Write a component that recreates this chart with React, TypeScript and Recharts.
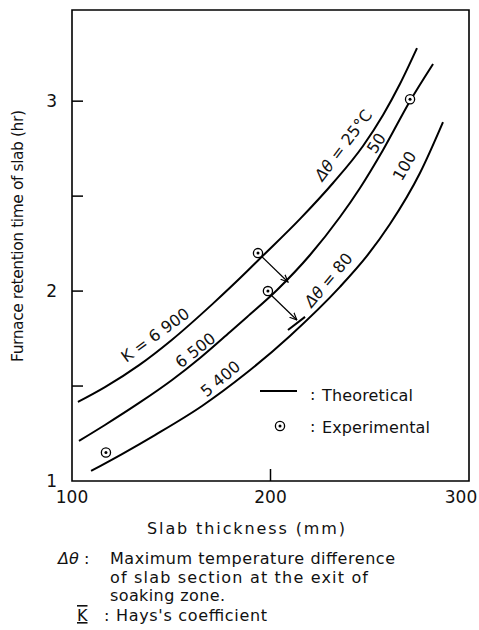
import React from 'react'
import { ComposedChart, Line, Scatter, XAxis, YAxis, ReferenceArea, ReferenceDot } from 'recharts'

const FONT = '"DejaVu Sans", sans-serif'

// theoretical curves (slab thickness mm -> retention time hr)
const k6900Thickness = [103.0, 116.6, 133.8, 150.4, 171.0, 188.2, 193.7, 214.9, 231.5, 246.6, 256.7, 265.2, 273.8]
const k6900Time = [1.416, 1.494, 1.61, 1.744, 1.934, 2.104, 2.161, 2.38, 2.569, 2.764, 2.927, 3.09, 3.279]

const k6500Thickness = [103.5, 116.6, 133.8, 150.4, 164.5, 179.6, 188.2, 203.3, 219.9, 235.0, 245.1, 256.7, 270.3, 281.9]
const k6500Time = [1.211, 1.295, 1.411, 1.532, 1.648, 1.785, 1.864, 2.006, 2.19, 2.39, 2.543, 2.743, 3.001, 3.196]

const k5400Thickness = [109.6, 125.2, 141.8, 165.5, 187.2, 209.8, 235.0, 248.6, 260.2, 275.3, 286.9]
const k5400Time = [1.053, 1.142, 1.242, 1.395, 1.563, 1.764, 2.022, 2.185, 2.353, 2.622, 2.89]

// short piece of the  Δθ = 80 line
const dt80Thickness = [208.8, 217.4]
const dt80Time = [1.795, 1.864]

// experimental points
const expThickness = [117.1, 193.7, 198.7, 270.3]
const expTime = [1.15, 2.2, 2.0, 3.01]

// arrows from experimental points
const arrow1Thickness = [193.7, 208.8]
const arrow1Time = [2.201, 2.048]
const arrow2Thickness = [198.7, 213.3]
const arrow2Time = [1.995, 1.848]

const xTicks = [100, 200, 300]
const yTicks = [1, 1.5, 2, 2.5, 3]

const curveLabels = [
  { x: 236.5, y: 2.77, angle: -53, text: 'Δθ = 25°C', italic: 2 },
  { x: 253.1, y: 2.78, angle: -57, text: '50', italic: 0 },
  { x: 267.3, y: 2.66, angle: -60, text: '100', italic: 0 },
  { x: 229.0, y: 2.06, angle: -50, text: 'Δθ = 80', italic: 2 },
  { x: 141.8, y: 1.77, angle: -36, text: 'K = 6 900', italic: 0 },
  { x: 162.0, y: 1.69, angle: -38, text: '6 500', italic: 0 },
  { x: 174.6, y: 1.54, angle: -40, text: '5 400', italic: 0 },
]

const zip = (xs: number[], ys: number[]) => xs.map((x, i) => ({ x, y: ys[i] }))

const ExpMark = ({ cx, cy }: any) => (
  <g>
    <circle cx={cx} cy={cy} r={4.6} fill="#fff" stroke="#000" strokeWidth={1.3} />
    <circle cx={cx} cy={cy} r={1.5} fill="#000" />
  </g>
)

const XTick = ({ x, y, payload }: any) => {
  const axisY = y - 10
  const last = payload.value === 300
  return (
    <g>
      {payload.value === 200 && <line x1={x} x2={x} y1={axisY} y2={axisY - 12} stroke="#000" strokeWidth={1.5} />}
      <text x={last ? x - 8 : x} y={axisY + 22} textAnchor="middle" fontSize={17} fontFamily={FONT} fill="#111">
        {payload.value}
      </text>
    </g>
  )
}

const YTick = ({ x, y, payload }: any) => {
  const axisX = x + 15
  const v = payload.value
  return (
    <g>
      {v !== 1 && <line x1={axisX} x2={axisX + 11} y1={y} y2={y} stroke="#000" strokeWidth={1.5} />}
      {Number.isInteger(v) && (
        <text x={x} y={y} dy={6} textAnchor="end" fontSize={17} fontFamily={FONT} fill="#111">
          {v}
        </text>
      )}
    </g>
  )
}

const CurveLabel = (lbl: (typeof curveLabels)[number]) => (p: any) => {
  const head = lbl.text.slice(0, lbl.italic)
  const rest = lbl.text.slice(lbl.italic)
  return (
    <text
      x={p.cx}
      y={p.cy}
      dy={6}
      textAnchor="middle"
      fontSize={16}
      fontFamily={FONT}
      fill="#111"
      transform={`rotate(${lbl.angle}, ${p.cx}, ${p.cy})`}
    >
      {head && <tspan fontStyle="italic">{head}</tspan>}
      {rest}
    </text>
  )
}

export default function App() {
  return (
    <div style={{ position: 'absolute', left: 0, top: 0, width: 479, height: 630, background: '#fff' }}>
      <ComposedChart width={479} height={545} margin={{ top: 10, right: 10, bottom: 0, left: 0 }}>
        <defs>
          <marker id="arrowHead" viewBox="0 0 10 10" refX="9" refY="5" markerWidth="8" markerHeight="8" orient="auto" markerUnits="userSpaceOnUse">
            <path d="M0,1 L9,5 L0,9" fill="none" stroke="#000" strokeWidth={1.5} />
          </marker>
        </defs>
        <XAxis
          type="number"
          dataKey="x"
          domain={[100, 300]}
          ticks={xTicks}
          interval={0}
          allowDataOverflow
          axisLine={false}
          tickLine={false}
          tickSize={0}
          tickMargin={10}
          height={64}
          tick={XTick}
        />
        <YAxis
          type="number"
          dataKey="y"
          domain={[1, 3.48]}
          ticks={yTicks}
          interval={0}
          allowDataOverflow
          axisLine={false}
          tickLine={false}
          tickSize={0}
          tickMargin={15}
          width={72}
          tick={YTick}
        />
        <ReferenceArea x1={100} x2={300} y1={1} y2={3.48} fill="none" stroke="#000" strokeWidth={1.6} fillOpacity={0} />
        <Line data={zip(k6900Thickness, k6900Time)} dataKey="y" type="monotone" stroke="#000" strokeWidth={2} dot={false} isAnimationActive={false} />
        <Line data={zip(k6500Thickness, k6500Time)} dataKey="y" type="monotone" stroke="#000" strokeWidth={2} dot={false} isAnimationActive={false} />
        <Line data={zip(k5400Thickness, k5400Time)} dataKey="y" type="monotone" stroke="#000" strokeWidth={2} dot={false} isAnimationActive={false} />
        <Line data={zip(dt80Thickness, dt80Time)} dataKey="y" type="linear" stroke="#000" strokeWidth={2} dot={false} isAnimationActive={false} />
        <Line data={zip(arrow1Thickness, arrow1Time)} dataKey="y" type="linear" stroke="#000" strokeWidth={1.2} dot={false} markerEnd="url(#arrowHead)" isAnimationActive={false} />
        <Line data={zip(arrow2Thickness, arrow2Time)} dataKey="y" type="linear" stroke="#000" strokeWidth={1.2} dot={false} markerEnd="url(#arrowHead)" isAnimationActive={false} />
        <Scatter data={zip(expThickness, expTime)} shape={ExpMark} isAnimationActive={false} />
        {curveLabels.map((l) => (
          <ReferenceDot key={l.text} x={l.x} y={l.y} r={0} ifOverflow="visible" shape={CurveLabel(l)} />
        ))}
      </ComposedChart>

      <svg width={479} height={630} style={{ position: 'absolute', left: 0, top: 0, pointerEvents: 'none' }} fontFamily={FONT} fill="#111">
        <text transform="rotate(-90)" x={-236} y={23} textAnchor="middle" fontSize={15.5} textLength={252} lengthAdjust="spacing">
          Furnace retention time of slab (hr)
        </text>
        <text x={147} y={534} fontSize={16} textLength={198} lengthAdjust="spacing">
          Slab thickness (mm)
        </text>

        <line x1={260} x2={297} y1={391} y2={391} stroke="#000" strokeWidth={2} />
        <text x={310} y={400} fontSize={16}>:</text>
        <text x={322} y={401} fontSize={16} textLength={91} lengthAdjust="spacing">Theoretical</text>
        <ExpMark cx={280} cy={426} />
        <text x={310} y={432} fontSize={16}>:</text>
        <text x={322} y={433} fontSize={16} textLength={108} lengthAdjust="spacing">Experimental</text>

        <text x={58} y={564} fontSize={16} fontStyle="italic">Δθ</text>
        <text x={84} y={564} fontSize={16}>:</text>
        <text x={110} y={564} fontSize={16} textLength={285} lengthAdjust="spacing">Maximum temperature difference</text>
        <text x={110} y={583} fontSize={16} textLength={258} lengthAdjust="spacing">of slab section at the exit of</text>
        <text x={110} y={601} fontSize={16} textLength={115} lengthAdjust="spacing">soaking zone.</text>
        <text x={77} y={621} fontSize={16} style={{ textDecoration: 'underline overline' }}>K</text>
        <text x={104} y={621} fontSize={16}>:</text>
        <text x={116} y={621} fontSize={16} textLength={151} lengthAdjust="spacing">Hays's coefficient</text>
      </svg>
    </div>
  )
}
